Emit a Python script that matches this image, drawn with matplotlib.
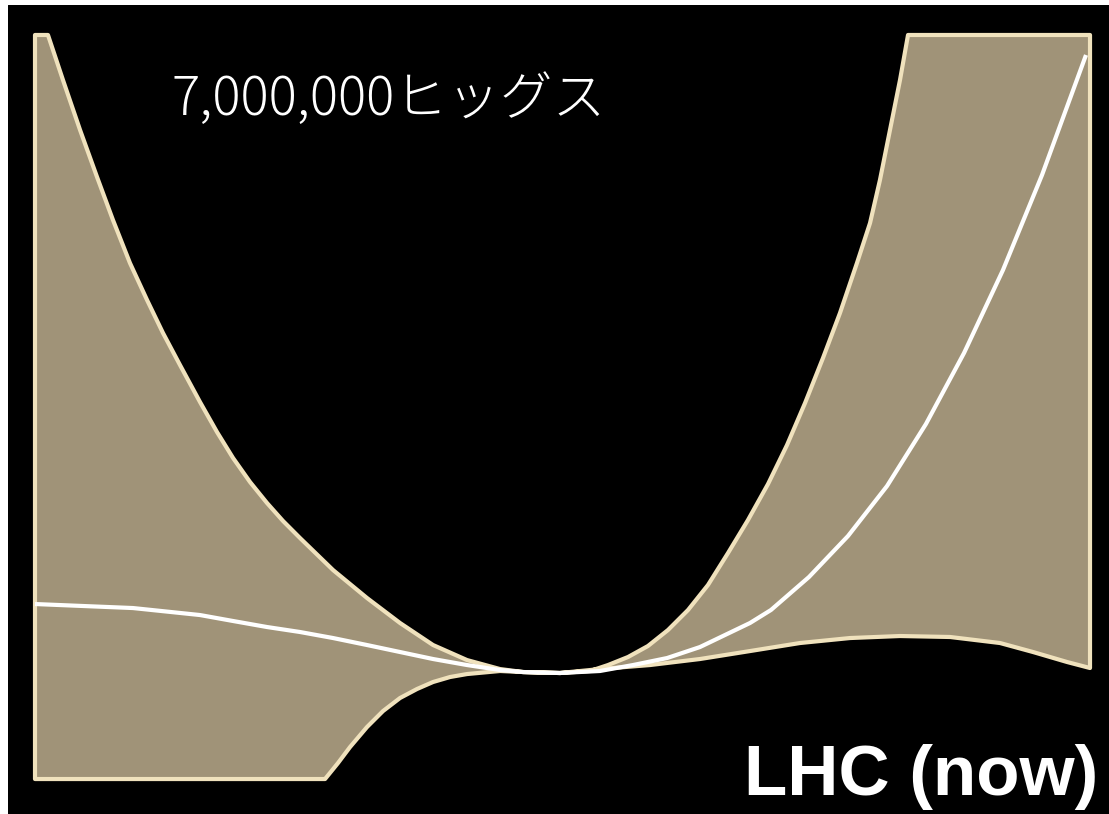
import matplotlib
matplotlib.use("Agg")
import matplotlib.pyplot as plt
import numpy as np

# Band outline (x: 0..100 across the band, y: 0..100 bottom to top) ---------------------------------------
# upper edge, left to right (incl. the flat top pieces and the right side)
upper_x = [0.0, 1.23, 2.65, 4.27, 5.88, 7.39, 9.00, 10.62, 12.13, 13.74, 15.64, 17.25, 18.77, 20.38,
           21.99, 23.51, 25.12, 28.25, 31.47, 34.60, 37.73, 40.95, 44.08, 46.26, 49.76, 52.61,
           54.31, 56.21, 58.10, 60.00, 61.90, 63.79, 65.69, 67.58, 69.48, 71.28, 72.99, 74.69,
           76.30, 77.91, 79.15, 80.09, 81.04, 81.99, 82.75, 100.0, 100.0]
upper_y = [100.0, 100.0, 93.95, 87.23, 80.91, 75.13, 69.35, 64.38, 59.95, 55.65, 50.67, 46.64, 43.15, 39.92,
           37.10, 34.68, 32.39, 28.09, 24.33, 20.97, 18.01, 15.99, 14.78, 14.38, 14.25, 14.52,
           15.32, 16.40, 17.88, 20.03, 22.72, 26.08, 30.38, 34.81, 39.65, 44.89, 50.54, 56.59,
           62.63, 69.35, 74.73, 80.51, 87.23, 93.95, 100.0, 100.0, 14.92]

# lower edge, right to left
lower_x = [100.0, 97.82, 94.60, 91.47, 86.73, 81.99, 77.25, 72.51, 67.77, 63.03, 58.29, 53.55, 49.76,
           46.26, 44.08, 40.95, 39.34, 37.73, 36.21, 34.60, 32.99, 31.47, 29.86, 28.72, 27.49, 0.0]
lower_y = [14.92, 15.73, 17.07, 18.28, 19.09, 19.22, 18.95, 18.28, 17.20, 16.13, 15.32, 14.78, 14.25,
           14.38, 14.52, 14.11, 13.71, 13.04, 12.10, 10.89, 9.14, 6.99, 4.30, 2.15, 0.0, 0.0]

# central (white) curve
center_x = [0.0, 9.29, 15.64, 18.77, 21.99, 25.12, 28.25, 31.47, 34.60, 37.73, 40.95, 44.08, 46.26,
            49.76, 53.55, 56.68, 59.91, 63.03, 67.77, 69.76, 73.36, 77.06, 80.76, 84.45, 88.06,
            91.75, 95.45, 99.62]
center_y = [23.52, 22.98, 22.04, 21.24, 20.43, 19.76, 18.95, 18.01, 17.07, 16.13, 15.32, 14.65, 14.38,
            14.25, 14.52, 15.32, 16.26, 17.74, 20.97, 22.72, 27.15, 32.66, 39.38, 47.72, 57.26,
            68.41, 81.18, 97.31]

title_text = "7,000,000ヒッグス"
label_text = "LHC (now)"

# Figure -----------------------------------------------------------------------------------------------------
W, H = 1109, 814
fig = plt.figure(figsize=(W / 100, H / 100), dpi=100, facecolor="white")
ax = fig.add_axes([8 / W, 0, (W - 8) / W, (H - 5) / H])
ax.set_facecolor("black")
ax.set_xlim(-2.56, 101.8)
ax.set_ylim(-4.70, 104.03)
ax.set_axis_off()
ax.add_patch(plt.Rectangle((0, 0), 1, 1, transform=ax.transAxes, color="black", zorder=0))

# the band
poly_x = np.concatenate([upper_x, lower_x])
poly_y = np.concatenate([upper_y, lower_y])
ax.fill(poly_x, poly_y, facecolor="#a09378", edgecolor="#f0e2bd", linewidth=3.0,
        joinstyle="round", zorder=2)

# central curve
ax.plot(center_x, center_y, color="white", lw=3.0, solid_capstyle="butt",
        solid_joinstyle="round", zorder=3)

# labels
fig.text(172 / W, 1 - 100 / H, title_text, color="white", fontsize=38, va="center", ha="left",
         family=["Noto Sans CJK JP", "DejaVu Sans"], fontweight="light")
fig.text(1098 / W, 1 - 795 / H, label_text, color="white", fontsize=51, va="baseline", ha="right",
         family=["Liberation Sans", "DejaVu Sans"], fontweight="bold")

fig.savefig("out.png", dpi=100, facecolor="white")
